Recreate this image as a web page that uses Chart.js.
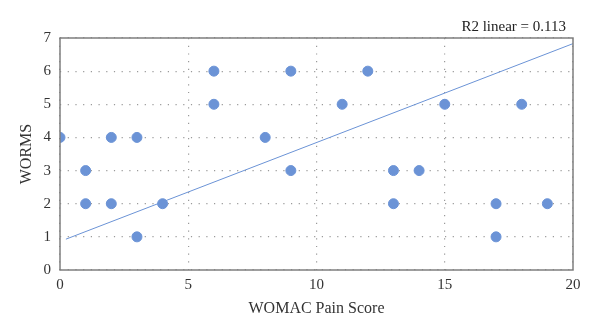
<!DOCTYPE html>
<html>
<head>
<meta charset="utf-8">
<script src="https://cdn.jsdelivr.net/npm/chart.js@4"></script>
<style>
  html, body { margin: 0; padding: 0; background: #fff; }
  #wrap { width: 600px; height: 333px; }
</style>
</head>
<body>
<div id="wrap"><canvas id="chart" width="600" height="333"></canvas></div>
<script>
// WOMAC pain score vs WORMS
const painScore = [0, 1, 1, 2, 2, 3, 3, 4, 6, 6, 8, 9, 9, 11, 12, 13, 13, 14, 15, 17, 17, 18, 19];
const worms     = [4, 3, 2, 4, 2, 4, 1, 2, 6, 5, 4, 6, 3, 5, 6, 3, 2, 3, 5, 2, 1, 5, 2];

// fit line ends
const fitX = [0.23, 20];
const fitY = [0.93, 6.83];

const r2Label = "R2 linear = 0.113";
const xTitle = "WOMAC Pain Score";
const yTitle = "WORMS";

const blue = "#6b93d6";
const serif = "'Liberation Serif', 'DejaVu Serif', serif";

// frame round the plot + R2 text
const framePlugin = {
  id: "frame",
  afterDraw(chart) {
    const { ctx, chartArea: a } = chart;
    ctx.save();
    ctx.strokeStyle = "#7f7f7f";
    ctx.lineWidth = 1.5;
    ctx.strokeRect(a.left, a.top, a.right - a.left, a.bottom - a.top);
    ctx.fillStyle = "#222";
    ctx.font = "15px " + serif;
    ctx.textAlign = "right";
    ctx.textBaseline = "alphabetic";
    ctx.fillText(r2Label, a.right - 7, a.top - 7);
    ctx.restore();
  }
};

new Chart(document.getElementById("chart").getContext("2d"), {
  type: "scatter",
  data: {
    datasets: [
      {
        label: "points",
        data: painScore.map((x, i) => ({ x: x, y: worms[i] })),
        backgroundColor: blue,
        borderColor: blue,
        pointRadius: 5,
        pointHoverRadius: 5,
      },
      {
        label: "fit",
        type: "line",
        data: fitX.map((x, i) => ({ x: x, y: fitY[i] })),
        borderColor: blue,
        borderWidth: 1,
        pointRadius: 0,
        fill: false,
      },
    ],
  },
  options: {
    responsive: false,
    animation: false,
    layout: { padding: { top: 38, right: 27, left: 0, bottom: 0 } },
    plugins: { legend: { display: false }, tooltip: { enabled: false } },
    scales: {
      x: {
        type: "linear",
        min: 0,
        max: 20,
        afterFit(s) { s.height = 63; },
        ticks: { stepSize: 5, padding: 6, color: "#333", font: { family: serif, size: 15 } },
        grid: { color: "#9a9a9a", lineWidth: 1.2, drawTicks: false },
        border: { display: false, dash: [1.2, 6.5] },
        title: { display: true, text: xTitle, color: "#333", font: { family: serif, size: 16 }, padding: { bottom: 15 } },
      },
      y: {
        min: 0,
        max: 7,
        afterFit(s) { s.width = 60; },
        ticks: { stepSize: 1, padding: 9, color: "#333", font: { family: serif, size: 15 } },
        grid: { color: "#9a9a9a", lineWidth: 1.2, drawTicks: false },
        border: { display: false, dash: [1.2, 6.5] },
        title: { display: true, text: yTitle, color: "#333", font: { family: serif, size: 16 }, padding: { top: 17 } },
      },
    },
  },
  plugins: [framePlugin],
});
</script>
</body>
</html>
